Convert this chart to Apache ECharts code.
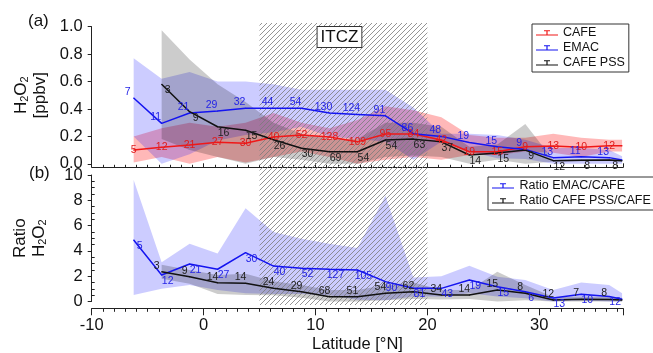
<!DOCTYPE html>
<html>
<head>
<meta charset="utf-8">
<script src="https://cdn.jsdelivr.net/npm/echarts@6/dist/echarts.min.js"></script>
<style>
  html, body { margin: 0; padding: 0; background: #fff; }
  #chart { width: 653px; height: 353px; }
</style>
</head>
<body>
<div id="chart"></div>
<script type="text/javascript">

// latitude bins (°N); CAFE PSS starts one bin later
var lat = [-6.25, -3.75, -1.25, 1.25, 3.75, 6.25, 8.75, 11.25, 13.75, 16.25, 18.75, 21.25, 23.75, 26.25, 28.75, 31.25, 33.75, 36.25, 37.4];
var latPss = lat.slice(1);
var itczRange = [5, 20];

// (a) H2O2 [ppbv], line + upper/lower edge of the shaded spread
var cafe   = [0.10, 0.12, 0.137, 0.157, 0.15, 0.195, 0.21, 0.195, 0.16, 0.217, 0.217, 0.174, 0.088, 0.088, 0.125, 0.13, 0.12, 0.132, 0.132];
var cafeHi = [0.20, 0.26, 0.30, 0.27, 0.30, 0.37, 0.30, 0.26, 0.32, 0.42, 0.39, 0.34, 0.21, 0.19, 0.19, 0.22, 0.19, 0.175, 0.175];
var cafeLo = [0.01, 0.05, 0.0, 0.05, 0.01, 0.05, 0.09, 0.05, 0.0, 0.03, 0.05, 0.03, 0.065, 0.065, 0.09, 0.08, 0.05, 0.09, 0.09];
var emac   = [0.48, 0.295, 0.37, 0.385, 0.405, 0.405, 0.405, 0.37, 0.36, 0.35, 0.22, 0.20, 0.155, 0.125, 0.105, 0.045, 0.052, 0.045, 0.028];
var emacHi = [0.77, 0.62, 0.67, 0.60, 0.60, 0.58, 0.54, 0.54, 0.54, 0.54, 0.41, 0.22, 0.22, 0.21, 0.175, 0.115, 0.115, 0.10, 0.055];
var emacLo = [0.20, 0.0, 0.07, 0.17, 0.21, 0.23, 0.27, 0.20, 0.18, 0.16, 0.03, 0.16, 0.09, 0.04, 0.035, 0.0, 0.0, 0.0, 0.0];
var pss    = [0.58, 0.38, 0.27, 0.245, 0.175, 0.113, 0.088, 0.088, 0.174, 0.18, 0.16, 0.064, 0.079, 0.10, 0.023, 0.026, 0.028, 0.023];
var pssHi  = [0.975, 0.76, 0.58, 0.45, 0.30, 0.22, 0.18, 0.18, 0.30, 0.30, 0.27, 0.125, 0.14, 0.29, 0.03, 0.035, 0.035, 0.03];
var pssLo  = [0.18, 0.10, 0.05, 0.0, 0.05, 0.03, 0.0, 0.0, 0.05, 0.06, 0.05, 0.0, 0.03, 0.0, 0.015, 0.018, 0.02, 0.015];

// number of data points per bin (printed at the points)
var nCafe = [5, 12, 21, 27, 30, 40, 52, 128, 109, 95, 84, 42, 19, 15, 9, 13, 10, 12, ''];
var nEmac = [7, 11, 21, 29, 32, 44, 54, 130, 124, 91, 86, 48, 19, 15, 9, 13, 11, 13, ''];
var nPss  = [3, 9, 16, 15, 26, 30, 69, 54, 54, 63, 37, 14, 15, 9, 12, 8, 8, ''];

// (b) ratios
var ratioEmac   = [4.86, 2.1, 2.96, 2.55, 3.86, 2.8, 2.62, 2.55, 2.49, 1.57, 1.04, 1.04, 1.7, 1.17, 0.77, 0.27, 0.57, 0.4, 0.17];
var ratioEmacHi = [9.6, 3.1, 4.57, 3.79, 7.37, 5.5, 4.96, 4.57, 4.23, 8.36, 1.9, 2.0, 2.82, 1.96, 1.7, 0.91, 1.51, 1.3, 0.65];
var ratioEmacLo = [0.52, 1.0, 1.3, 0.9, 0.65, 0.6, 0.6, 0.5, 0.13, 0.1, 0.4, 0.39, 0.65, 0.4, 0.26, 0.0, 0.1, 0.0, 0.0];
var ratioPss    = [2.36, 1.96, 1.49, 1.44, 1.04, 0.77, 0.38, 0.38, 0.65, 0.77, 0.51, 0.51, 0.91, 0.65, 0.12, 0.17, 0.16, 0.12];
var ratioPssHi  = [2.9, 2.5, 2.1, 2.2, 1.6, 1.3, 0.9, 0.9, 1.3, 1.5, 0.9, 0.9, 2.35, 1.3, 0.35, 0.4, 0.35, 0.3];
var ratioPssLo  = [1.8, 1.4, 0.6, 0.52, 0.5, 0.3, 0.0, 0.0, 0.1, 0.2, 0.15, 0.2, 0.0, 0.1, 0.0, 0.0, 0.0, 0.0];
var nRatioEmac  = [5, 12, 21, 27, 30, 40, 52, 127, 105, 90, 81, 43, 19, 15, 6, 13, 10, 12, ''];
var nRatioPss   = [3, 9, 14, 14, 24, 29, 68, 51, 54, 62, 34, 14, 15, 8, 12, 7, 8, ''];

var FONT = 'Liberation Sans, Arial, Helvetica, sans-serif';
var RED = '#f01818', BLUE = '#1414f0', BLACK = '#111111';
var AX = { color: '#222', width: 1 };
// legend icon: line with an error-bar cap
var T_ICON = 'path://M0,0L0,12Z M0,7.4H22V8.6H0Z M10.4,3.9H11.6V7.4H10.4Z M8,3.2H14V4.3H8Z';

// diagonal hatch for the ITCZ
var hatch = document.createElement('canvas');
hatch.width = 5; hatch.height = 5;
var hg = hatch.getContext('2d');
hg.strokeStyle = '#7a7a7a';
hg.lineWidth = 0.8;
hg.beginPath();
hg.moveTo(-1, 6); hg.lineTo(6, -1);
hg.moveTo(-1, 1); hg.lineTo(1, -1);
hg.moveTo(4, 6); hg.lineTo(6, 4);
hg.stroke();

function band(xs, hi, lo, fill, xi, yi) {
  return {
    type: 'custom', xAxisIndex: xi, yAxisIndex: yi, z: 0, silent: true,
    data: xs.map(function (x, i) { return [x, lo[i], hi[i]]; }),
    encode: { x: 0, y: [1, 2] },
    renderItem: function (params, api) {
      if (params.dataIndex !== 0) return null;
      var top = [], bot = [];
      for (var i = 0; i < xs.length; i++) {
        top.push(api.coord([xs[i], hi[i]]));
        bot.unshift(api.coord([xs[i], lo[i]]));
      }
      return { type: 'polygon', shape: { points: top.concat(bot) }, style: { fill: fill } };
    }
  };
}

function line(name, xs, ys, counts, color, labelColor, offset, xi, yi) {
  return {
    name: name, type: 'line', xAxisIndex: xi, yAxisIndex: yi, z: 3, silent: true,
    data: xs.map(function (x, i) { return [x, ys[i]]; }),
    symbol: 'circle', symbolSize: 1, showSymbol: true, showAllSymbol: true,
    itemStyle: { color: color },
    lineStyle: { color: color, width: 1.5 },
    label: {
      show: true, position: 'inside', offset: offset, color: labelColor,
      fontSize: 10.5, fontFamily: FONT,
      formatter: function (p) { return counts[p.dataIndex]; }
    },
    emphasis: { disabled: true }
  };
}

function xAx(grid, offset, inside, showLabels) {
  return {
    type: 'value', gridIndex: grid, min: -10, max: 37.5, interval: 10, position: 'bottom', offset: offset,
    axisLine: { show: true, onZero: false, lineStyle: AX },
    axisTick: { show: true, inside: inside, length: inside ? 4 : 7, lineStyle: AX },
    minorTick: { show: true, splitNumber: 10, length: inside ? 2.5 : 3.5, lineStyle: AX },
    axisLabel: {
      show: showLabels, margin: 9, fontSize: 16.5, color: '#111', fontFamily: FONT,
      formatter: function (v) { return v % 10 === 0 ? String(v) : ''; }
    },
    splitLine: { show: false }
  };
}

var nameRich = {
  t: { fontSize: 17, lineHeight: 19, color: '#111', fontFamily: FONT },
  s: { fontSize: 11, lineHeight: 10, verticalAlign: 'bottom', color: '#111', fontFamily: FONT }
};

var chart = echarts.init(document.getElementById('chart'));

var option = {
  animation: false,
  backgroundColor: '#fff',
  textStyle: { fontFamily: FONT },
  title: [
    { text: '(a)', left: 28, top: 13, padding: 0, textStyle: { fontSize: 17, fontWeight: 'normal', color: '#111', fontFamily: FONT } },
    { text: '(b)', left: 29, top: 165, padding: 0, textStyle: { fontSize: 17, fontWeight: 'normal', color: '#111', fontFamily: FONT } }
  ],
  grid: [
    { left: 91.7, width: 531.5, top: 26.7, height: 137.1, containLabel: false, outerBoundsMode: 'none' },
    { left: 91.7, width: 531.5, top: 175, height: 126.5, containLabel: false, outerBoundsMode: 'none' },
    { left: 91.7, width: 531.5, top: 23, height: 282, containLabel: false, outerBoundsMode: 'none' }
  ],
  legend: [
    {
      orient: 'vertical', left: 532, top: 24, padding: [2.5, 4], itemGap: 2, itemWidth: 22, itemHeight: 12,
      borderColor: '#333', borderWidth: 1, backgroundColor: '#fff', selectedMode: false,
      itemStyle: { borderWidth: 0 },
      textStyle: { fontSize: 12.5, color: '#111', fontFamily: FONT },
      data: [{ name: 'CAFE', icon: T_ICON }, { name: 'EMAC', icon: T_ICON }, { name: 'CAFE PSS', icon: T_ICON }]
    },
    {
      orient: 'vertical', left: 488, top: 177, padding: [2.5, 4], itemGap: 2, itemWidth: 23, itemHeight: 12,
      borderColor: '#333', borderWidth: 1, backgroundColor: '#fff', selectedMode: false,
      itemStyle: { borderWidth: 0 },
      textStyle: { fontSize: 12.5, color: '#111', fontFamily: FONT },
      data: [{ name: 'Ratio EMAC/CAFE', icon: T_ICON }, { name: 'Ratio CAFE PSS/CAFE', icon: T_ICON }]
    }
  ],
  xAxis: [
    xAx(0, 3.5, true, false),
    Object.assign(xAx(1, 6.8, false, true), {
      name: 'Latitude [°N]', nameLocation: 'middle', nameGap: 28,
      nameTextStyle: { fontSize: 16.5, color: '#111', fontFamily: FONT }
    }),
    { type: 'value', gridIndex: 2, min: -10, max: 37.5, show: false }
  ],
  yAxis: [
    {
      type: 'value', gridIndex: 0, position: 'left', min: 0, max: 1, interval: 0.2,
      axisLine: { show: true, onZero: false, lineStyle: AX },
      axisTick: { show: true, length: 4, lineStyle: AX },
      axisLabel: { margin: 9, fontSize: 16.5, color: '#111', fontFamily: FONT, formatter: function (v) { return v.toFixed(1); } },
      splitLine: { show: false },
      name: '{t|H}{s|2}{t|O}{s|2}\n{t|[ppbv]}', nameLocation: 'middle', nameRotate: 90, nameGap: 39,
      nameTextStyle: { rich: nameRich }
    },
    {
      type: 'value', gridIndex: 1, position: 'left', min: 0, max: 10, interval: 2,
      axisLine: { show: true, onZero: false, lineStyle: AX },
      axisTick: { show: true, length: 4, lineStyle: AX },
      axisLabel: { margin: 9, fontSize: 16.5, color: '#111', fontFamily: FONT },
      splitLine: { show: false },
      name: '{t|Ratio}\n{t|H}{s|2}{t|O}{s|2}', nameLocation: 'middle', nameRotate: 90, nameGap: 43,
      nameTextStyle: { rich: nameRich }
    },
    {
      // inward minor ticks of panel (b)
      type: 'value', gridIndex: 1, position: 'left', min: 0, max: 10, interval: 2,
      axisLine: { show: false, onZero: false },
      axisTick: { show: false, inside: true },
      minorTick: { show: true, splitNumber: 4, length: 3, lineStyle: AX },
      axisLabel: { show: false },
      splitLine: { show: false }
    },
    { type: 'value', gridIndex: 2, min: 0, max: 1, show: false }
  ],
  series: [
    band(lat, cafeHi, cafeLo, 'rgba(255,0,0,0.28)', 0, 0),
    band(lat, emacHi, emacLo, 'rgba(0,0,255,0.2)', 0, 0),
    band(latPss, pssHi, pssLo, 'rgba(0,0,0,0.2)', 0, 0),
    band(lat, ratioEmacHi, ratioEmacLo, 'rgba(0,0,255,0.2)', 1, 1),
    band(latPss, ratioPssHi, ratioPssLo, 'rgba(0,0,0,0.2)', 1, 1),
    {
      type: 'line', xAxisIndex: 2, yAxisIndex: 3, data: [], silent: true,
      markArea: {
        silent: true, z: 1,
        itemStyle: { color: { image: hatch, repeat: 'repeat' } },
        label: {
          show: true, position: 'insideTop', distance: 4, offset: [-4, 0], formatter: 'ITCZ',
          fontSize: 17, color: '#111', fontFamily: FONT,
          backgroundColor: '#fff', borderColor: '#333', borderWidth: 1, padding: [2, 3, 1, 3]
        },
        data: [[{ xAxis: itczRange[0] }, { xAxis: itczRange[1] }]]
      }
    },
    line('CAFE', lat, cafe, nCafe, RED, '#e01c1c', [0, 0], 0, 0),
    line('EMAC', lat, emac, nEmac, BLUE, '#2424e6', [-6, -6], 0, 0),
    line('CAFE PSS', latPss, pss, nPss, BLACK, '#222', [6, 6], 0, 0),
    line('Ratio EMAC/CAFE', lat, ratioEmac, nRatioEmac, BLUE, '#2424e6', [6, 6], 1, 1),
    line('Ratio CAFE PSS/CAFE', latPss, ratioPss, nRatioPss, BLACK, '#222', [-5, -6], 1, 1)
  ]
};

chart.setOption(option);
</script>
</body>
</html>
